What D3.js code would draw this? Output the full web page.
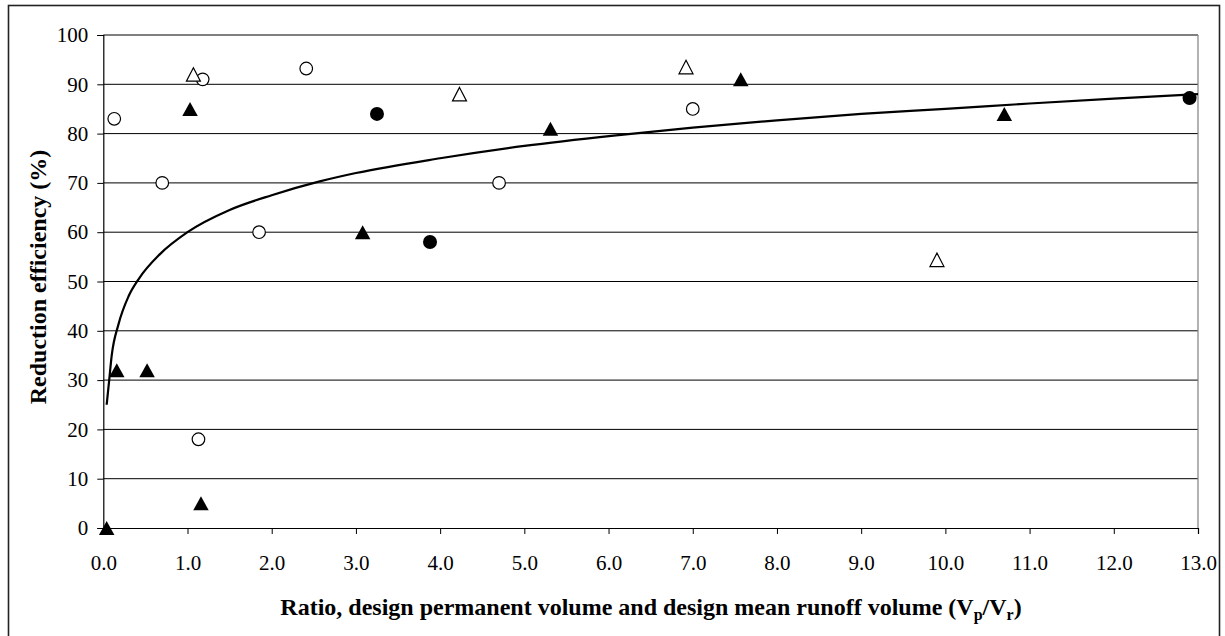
<!DOCTYPE html>
<html>
<head>
<meta charset="utf-8">
<script src="https://cdn.jsdelivr.net/npm/d3@7/dist/d3.min.js"></script>
<style>
  html, body { margin: 0; padding: 0; background: #fff; }
  svg { display: block; }
  text { font-family: "Liberation Serif", "Times New Roman", serif; fill: #000; }
</style>
</head>
<body>
<svg id="chart" width="1225" height="636"></svg>
<script>
// Ratio Vp/Vr (x) and reduction efficiency % (y) for each group of ponds
const openCircleX = [0.13, 0.70, 1.18, 1.85, 2.41, 1.13, 4.70, 7.00];
const openCircleY = [83, 70, 91, 60, 93.2, 18, 70, 85];

const filledCircleX = [3.25, 3.88, 12.90];
const filledCircleY = [84, 58, 87.2];

const filledTriangleX = [1.03, 3.08, 0.16, 0.52, 1.16, 0.04, 5.31, 7.57, 10.70];
const filledTriangleY = [85, 60, 32, 32, 5, 0, 81, 91, 84];

const openTriangleX = [1.07, 4.23, 6.92, 9.90];
const openTriangleY = [92, 88, 93.5, 54.4];

// Logarithmic trend line, sampled along its length
const trendX = [0.04, 0.07, 0.10, 0.18, 0.30, 0.42, 0.67, 1.0, 1.5, 2.0, 2.57, 3.0, 4.0, 5.0, 6.06, 7.0, 8.0, 9.0, 10.0, 11.0, 12.0, 13.0];
const trendY = [25, 30, 35, 41.3, 47, 50.5, 55.5, 60, 64.5, 67.5, 70.3, 72, 75, 77.5, 79.6, 81.2, 82.7, 84, 85, 86.1, 87.1, 88];

const xTicks = [0,1,2,3,4,5,6,7,8,9,10,11,12,13];
const yTicks = [0,10,20,30,40,50,60,70,80,90,100];

(function () {
  const svg = d3.select("#chart");
  const plotLeft = 103.3, plotRight = 1198, plotTop = 35, plotBottom = 528;

  const x = d3.scaleLinear().domain([0, 13]).range([plotLeft, plotRight]);
  const y = d3.scaleLinear().domain([0, 100]).range([plotBottom, plotTop]);

  // outer chart frame
  svg.append("rect")
    .attr("x", 8.5).attr("y", 5.5)
    .attr("width", 1211).attr("height", 640)
    .attr("fill", "none").attr("stroke", "#222").attr("stroke-width", 1.6);

  // horizontal gridlines
  svg.append("g").selectAll("line")
    .data(yTicks.filter(v => v > 0))
    .join("line")
    .attr("x1", plotLeft).attr("x2", plotRight)
    .attr("y1", d => y(d)).attr("y2", d => y(d))
    .attr("stroke", "#000").attr("stroke-width", 1);

  // plot area right border
  svg.append("line")
    .attr("x1", plotRight).attr("x2", plotRight)
    .attr("y1", plotTop).attr("y2", plotBottom)
    .attr("stroke", "#808080").attr("stroke-width", 1.2);

  // y axis
  const yAxis = d3.axisLeft(y).tickValues(yTicks).tickSize(6).tickPadding(9)
    .tickFormat(d3.format("d"));
  const gy = svg.append("g").attr("transform", `translate(${plotLeft},0)`).call(yAxis);
  gy.select(".domain").attr("stroke", "#000").attr("stroke-width", 1.2);
  gy.selectAll(".tick line").attr("stroke", "#000");
  gy.selectAll(".tick text")
    .attr("font-size", 21).attr("fill", "#000");

  // x axis
  const xAxis = d3.axisBottom(x).tickValues(xTicks).tickSize(6).tickPadding(21)
    .tickFormat(d3.format(".1f"));
  const gx = svg.append("g").attr("transform", `translate(0,${plotBottom})`).call(xAxis);
  gx.select(".domain").attr("stroke", "#000").attr("stroke-width", 1.2);
  gx.selectAll(".tick line").attr("stroke", "#000");
  gx.selectAll(".tick text")
    .attr("font-size", 21).attr("fill", "#000");

  // trend line
  const trend = trendX.map((v, i) => ({ x: v, y: trendY[i] }));
  svg.append("path")
    .datum(trend)
    .attr("fill", "none").attr("stroke", "#000").attr("stroke-width", 2.2)
    .attr("d", d3.line().x(d => x(d.x)).y(d => y(d.y)).curve(d3.curveMonotoneX));

  const pts = (xs, ys) => xs.map((v, i) => ({ x: v, y: ys[i] }));

  // triangle centred on its bounding box
  const tri = (w, h) => `M0,${-h / 2}L${w / 2},${h / 2}L${-w / 2},${h / 2}Z`;

  svg.append("g").selectAll("circle")
    .data(pts(openCircleX, openCircleY)).join("circle")
    .attr("cx", d => x(d.x)).attr("cy", d => y(d.y)).attr("r", 6.3)
    .attr("fill", "#fff").attr("stroke", "#000").attr("stroke-width", 1.2);

  svg.append("g").selectAll("path")
    .data(pts(openTriangleX, openTriangleY)).join("path")
    .attr("transform", d => `translate(${x(d.x)},${y(d.y)})`)
    .attr("d", tri(14, 13.5))
    .attr("fill", "#fff").attr("stroke", "#000").attr("stroke-width", 1.2);

  svg.append("g").selectAll("circle")
    .data(pts(filledCircleX, filledCircleY)).join("circle")
    .attr("cx", d => x(d.x)).attr("cy", d => y(d.y)).attr("r", 7)
    .attr("fill", "#000");

  svg.append("g").selectAll("path")
    .data(pts(filledTriangleX, filledTriangleY)).join("path")
    .attr("transform", d => `translate(${x(d.x)},${y(d.y)})`)
    .attr("d", tri(15.5, 14))
    .attr("fill", "#000");

  // axis titles
  svg.append("text")
    .attr("transform", "translate(46,277) rotate(-90)")
    .attr("text-anchor", "middle")
    .attr("font-size", 24).attr("font-weight", "bold")
    .text("Reduction efficiency (%)");

  const xt = svg.append("text")
    .attr("x", 651).attr("y", 615)
    .attr("text-anchor", "middle")
    .attr("font-size", 24).attr("font-weight", "bold");
  xt.append("tspan").text("Ratio, design permanent volume and design mean runoff volume (V");
  xt.append("tspan").attr("font-size", 16).attr("dy", 5).text("p");
  xt.append("tspan").attr("dy", -5).text("/V");
  xt.append("tspan").attr("font-size", 16).attr("dy", 5).text("r");
  xt.append("tspan").attr("dy", -5).text(")");
})();
</script>
</body>
</html>
